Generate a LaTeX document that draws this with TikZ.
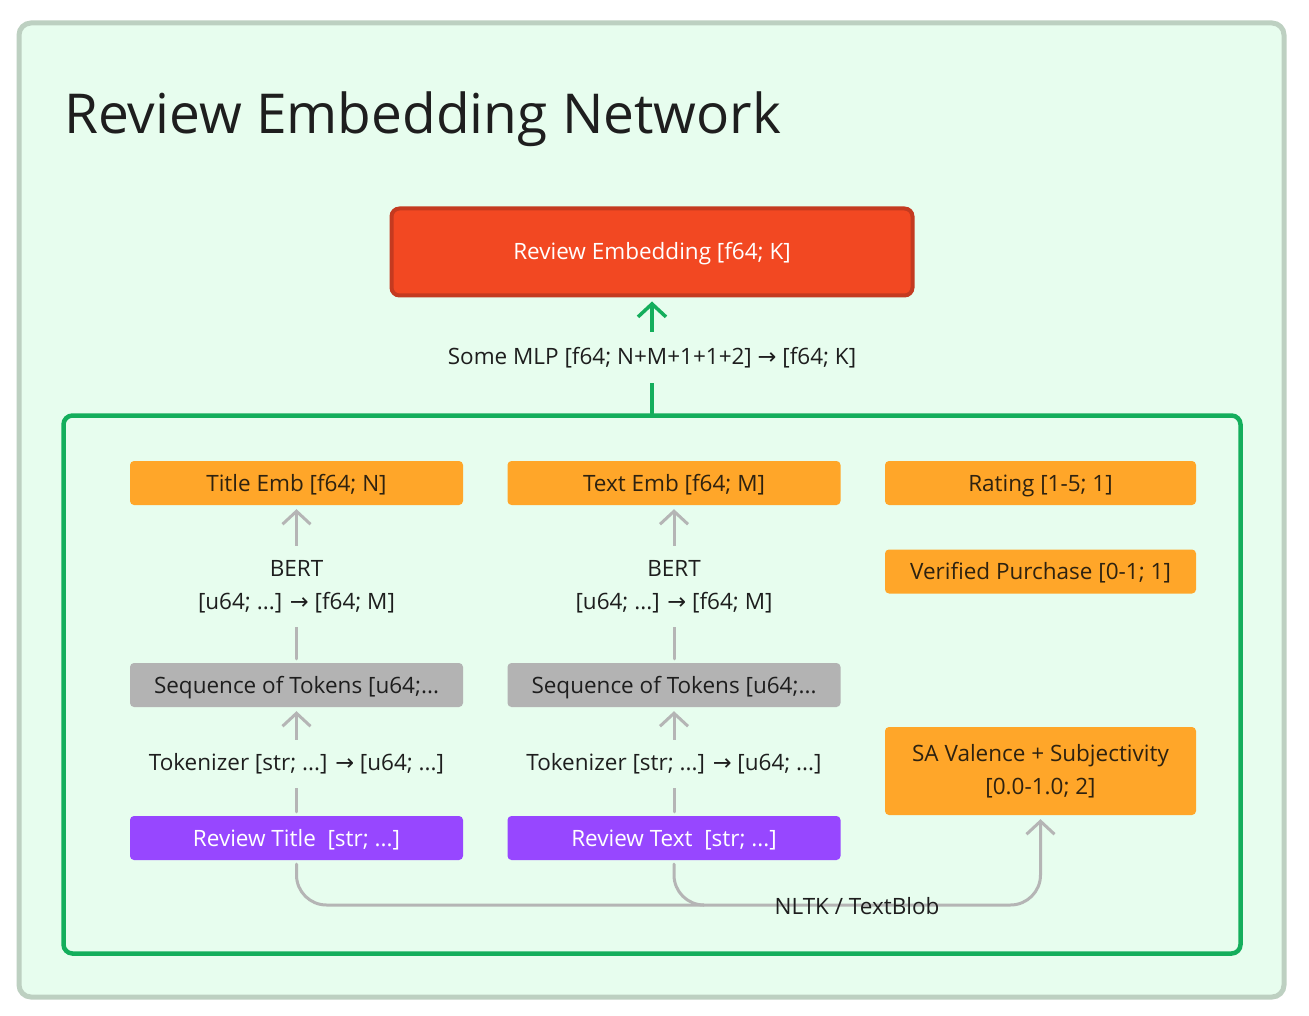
\documentclass[tikz,border=0pt]{standalone}
\usepackage{fontspec}
\setmainfont{Open Sans}
\newfontfamily\symfont{DejaVu Sans}
\newcommand{\rarr}{{\symfont →}}
\usetikzlibrary{arrows.meta,positioning}
\definecolor{mint}{HTML}{E7FDEE}
\definecolor{outerb}{HTML}{BDD0C1}
\definecolor{fgreen}{HTML}{14AE5C}
\definecolor{fred}{HTML}{F24822}
\definecolor{fredb}{HTML}{C43A20}
\definecolor{forange}{HTML}{FFA629}
\definecolor{fgray}{HTML}{B3B3B3}
\definecolor{fpurple}{HTML}{9747FF}
\definecolor{ink}{HTML}{1E1E1E}
\definecolor{brownink}{HTML}{2E2210}
\definecolor{conn}{HTML}{B5B5B5}
\tikzset{
  box/.style={rectangle, rounded corners=4pt, minimum width=333pt, minimum height=44pt, inner sep=0pt, text height=18pt, text depth=2pt, font=\fontsize{22.5}{26}\selectfont},
  obox/.style={box, fill=forange, text=brownink},
  gbox/.style={box, fill=fgray, text=ink},
  pbox/.style={box, fill=fpurple, text=white},
  lbl/.style={fill=mint, inner xsep=6pt, inner ysep=14pt, yshift=-2.5pt, text=ink, font=\fontsize{22.5}{33}\selectfont, align=center},
  garrow/.style={draw=conn, line width=3pt, -{Straight Barb[length=13pt,width=28pt,line width=3pt]}, line cap=round},
  gline/.style={draw=conn, line width=3pt, line cap=round},
}
\begin{document}
\begin{tikzpicture}[x=1pt,y=-1pt]
\useasboundingbox (0,0) rectangle (1309,1016);
\fill[white] (0,0) rectangle (1309,1016);
% outer frame
\draw[draw=outerb, fill=mint, line width=5pt, rounded corners=12pt] (19,23) rectangle (1284,997);
\node[anchor=base west, inner sep=0pt, text=ink, font=\fontsize{55}{60}\selectfont] (title) at (64,134) {Review Embedding Network};
% top red box
\node[rectangle, rounded corners=8pt, fill=fred, draw=fredb, line width=4pt, minimum width=521pt, minimum height=87pt, text height=18pt, text depth=2pt, text=white, font=\fontsize{22.5}{26}\selectfont] (emb) at (652,252) {Review Embedding [f64; K]};
% inner group frame
\node[rectangle, rounded corners=9pt, draw=fgreen, line width=4.5pt, minimum width=1177pt, minimum height=538pt] (grp) at (652,684.5) {};
% green connector
\draw[draw=fgreen, line width=3.5pt, line cap=round, -{Straight Barb[length=13pt,width=28pt,line width=3.5pt]}, shorten >=4pt] (grp.north) -- node[lbl, inner ysep=15pt] {Some MLP [f64; N+M+1+1+2] \rarr{} [f64; K]} (emb.south);
% columns
\node[obox] (temb) at (296.5,483) {Title Emb [f64; N]};
\node[obox] (xemb) at (674,483) {Text Emb [f64; M]};
\node[gbox] (tseq) at (296.5,685) {Sequence of Tokens [u64;...};
\node[gbox] (xseq) at (674,685) {Sequence of Tokens [u64;...};
\node[pbox] (ttl) at (296.5,838) {Review Title\ \ [str; ...]};
\node[pbox] (txt) at (674,838) {Review Text\ \ [str; ...]};
\node[obox, minimum width=311pt] (rate) at (1040.5,483) {Rating [1-5; 1]};
\node[obox, minimum width=311pt] (ver) at (1040.5,571.5) {Verified Purchase [0-1; 1]};
\node[rectangle, rounded corners=4pt, inner sep=0pt, fill=forange, text=brownink, minimum width=311pt, minimum height=88pt, align=center, font=\fontsize{22.5}{33}\selectfont] (sa) at (1040.5,771) {SA Valence + Subjectivity\\{}[0.0-1.0; 2]};
% gray connectors
\draw[garrow, shorten <=4pt, shorten >=4pt] (tseq.north) -- node[lbl] {BERT\\{}[u64; ...] \rarr{} [f64; M]} (temb.south);
\draw[garrow, shorten <=4pt, shorten >=4pt] (xseq.north) -- node[lbl] {BERT\\{}[u64; ...] \rarr{} [f64; M]} (xemb.south);
\draw[garrow, shorten <=4pt, shorten >=4pt] (ttl.north) -- node[lbl] {Tokenizer [str; ...] \rarr{} [u64; ...]} (tseq.south);
\draw[garrow, shorten <=4pt, shorten >=4pt] (txt.north) -- node[lbl] {Tokenizer [str; ...] \rarr{} [u64; ...]} (xseq.south);
% bottom NLTK connector
\coordinate (jn) at (703,905);
\draw[garrow, rounded corners=30pt, shorten <=4pt, shorten >=4pt] (ttl.south) |- (jn) -| (sa.south);
\draw[gline, rounded corners=30pt, shorten <=4pt] (txt.south) |- (jn);
\node[text=ink, font=\fontsize{22.5}{26}\selectfont, inner sep=0pt] (nltk) at (857,906) {NLTK / TextBlob};
\end{tikzpicture}
\end{document}
